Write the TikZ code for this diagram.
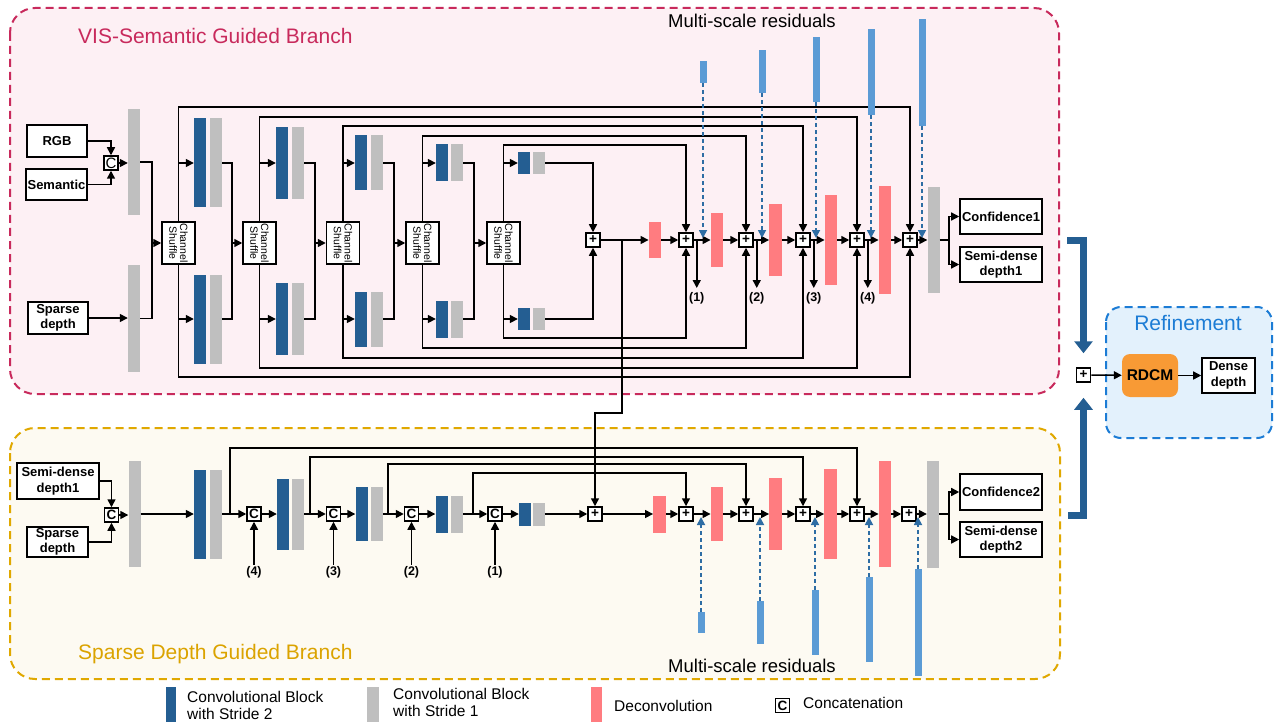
\documentclass[tikz,border=0pt]{standalone}
\usepackage{fontspec}
\setmainfont{Liberation Sans}
\usepackage{graphicx}
\usetikzlibrary{arrows.meta,calc}

\definecolor{cblue}{HTML}{245E92}
\definecolor{cgray}{HTML}{BFBFBF}
\definecolor{cpink}{HTML}{FF7C80}
\definecolor{cres}{HTML}{5B9BD5}
\definecolor{cresline}{HTML}{2E6DA4}
\definecolor{crim}{HTML}{C82A5C}
\definecolor{crimfill}{HTML}{FDF0F4}
\definecolor{gold}{HTML}{E0A800}
\definecolor{goldtext}{HTML}{DBA300}
\definecolor{goldfill}{HTML}{FDFAF2}
\definecolor{refblue}{HTML}{1C7CD5}
\definecolor{reffill}{HTML}{E3F1FC}
\definecolor{corange}{HTML}{F89A35}

% a filled bar: name, style, centre x, centre y, height
\newcommand\bloc[5]{\node[#2, minimum height=#5pt] (#1) at (#3,#4) {};}
\newcommand\shuf{\rotatebox{-90}{\fontsize{10.5}{12}\selectfont\shortstack{Channel\\Shuffle}}}

\tikzset{
  wire/.style={line width=1.5pt, black},
  arr/.style={wire, -{Triangle[length=8pt,width=8pt]}},
  box/.style={draw, line width=1.6pt, fill=white, inner sep=0pt, align=center,
    font=\bfseries\fontsize{13}{15.5}\selectfont},
  conv2/.style={fill=cblue, inner sep=0pt, minimum width=12pt},
  conv1/.style={fill=cgray, inner sep=0pt, minimum width=12pt},
  deconv/.style={fill=cpink, inner sep=0pt, minimum width=12.5pt},
  resid/.style={fill=cres, inner sep=0pt, minimum width=7pt},
  opnode/.style={draw, line width=1.5pt, fill=white, minimum size=14pt, inner sep=0pt,
    font=\bfseries\fontsize{13.5}{13.5}\selectfont},
  shuffle/.style={draw, line width=1.5pt, fill=white, minimum width=33pt,
    minimum height=42pt, inner sep=0pt},
  lab/.style={font=\bfseries\fontsize{12.5}{14}\selectfont, inner sep=1pt},
  resarr/.style={draw=cresline, line width=1.7pt, dash pattern=on 4pt off 3pt,
    -{Triangle[length=8pt,width=8pt,fill=cresline]}},
  bigarr/.style={draw=cblue, line width=7pt, line join=miter,
    -{Triangle[length=12pt,width=18pt]}},
  region/.style={line width=2pt, dash pattern=on 8pt off 5pt, rounded corners=25pt},
  title/.style={font=\fontsize{21}{25}\selectfont, inner sep=0pt},
  legtext/.style={font=\fontsize{15.5}{17}\selectfont, inner sep=0pt},
}

\begin{document}
\begin{tikzpicture}[x=1pt,y=-1pt]
\useasboundingbox (0,0) rectangle (1274,722);

% ---------- branch frames ----------
\draw[region, draw=crim, fill=crimfill] (10,8) rectangle (1059,394);
\draw[region, draw=gold, fill=goldfill] (10,428) rectangle (1060,679);
\draw[region, rounded corners=15pt, draw=refblue, fill=reffill] (1106,307) rectangle (1272,438);

\node[title, text=crim, anchor=base west] (tTop) at (78,44) {VIS-Semantic Guided Branch};
\node[title, text=goldtext, anchor=base west] (tBot) at (78,659) {Sparse Depth Guided Branch};
\node[title, text=refblue, anchor=base] (tRef) at (1188,330) {Refinement};
\node[font=\fontsize{18.5}{20}\selectfont, inner sep=0pt, anchor=base west] (msT) at (668,28) {Multi-scale residuals};
\node[font=\fontsize{18.5}{20}\selectfont, inner sep=0pt, anchor=base west] (msB) at (668,672) {Multi-scale residuals};

% ================= VIS-semantic guided branch =================
\node[box, minimum width=60pt, minimum height=32pt] (rgb) at (57,141) {RGB};
\node[box, minimum width=61pt, minimum height=31pt] (sem) at (56.5,184.5) {Semantic};
\node[box, minimum width=60pt, minimum height=32pt] (spT) at (58,318) {Sparse\\depth};
\node[opnode, font=\fontsize{15}{15}\selectfont] (catT) at (111,163) {C};
\bloc{gT0a}{conv1}{134}{162}{106}
\bloc{gT0b}{conv1}{134}{318.5}{107}

\draw[arr] (rgb.east) -| (catT.north);
\draw[arr] (sem.east) -| (catT.south);
\draw[arr] (catT.east) -- (catT.east -| gT0a.west);
\draw[arr] (spT.east) -- (spT.east -| gT0b.west);

\foreach \n/\x in {1/178.5,2/259.5,3/343,4/422.5,5/503.5}
  \node[shuffle] (cs\n) at (\x,243) {\shuf};

\coordinate (jT0) at (152,243);
\draw[wire] (gT0a.east) -| (jT0);
\draw[wire] (gT0b.east) -| (jT0);
\draw[arr] (jT0) -- (cs1.west);

% encoder stages (upper and lower paths)
\foreach \n/\bx/\gx/\h in {1/200/216/89, 2/282/298/72, 3/361/377/55, 4/442/457/37, 5/524/539/22} {
  \bloc{bTu\n}{conv2}{\bx}{163}{\h}
  \bloc{gTu\n}{conv1}{\gx}{163}{\h}
  \bloc{bTd\n}{conv2}{\bx}{319}{\h}
  \bloc{gTd\n}{conv1}{\gx}{319}{\h}
  \draw[arr] (cs\n.north |- bTu\n.west) -- (bTu\n.west);
  \draw[arr] (cs\n.south |- bTd\n.west) -- (bTd\n.west);
}
\foreach \n/\jx in {1/232,2/315,3/394,4/474} {
  \pgfmathtruncatemacro\m{\n+1}
  \coordinate (jT\n) at (\jx,243);
  \draw[wire] (gTu\n.east) -| (jT\n);
  \draw[wire] (gTd\n.east) -| (jT\n);
  \draw[arr] (jT\n) -- (cs\m.west);
}

% decoder
\node[opnode] (pA) at (593,240) {+};
\draw[arr] (gTu5.east) -| (pA.north);
\draw[arr] (gTd5.east) -| (pA.south);

\bloc{dT1}{deconv}{655}{240}{36}
\bloc{dT2}{deconv}{717}{240}{54}
\bloc{dT3}{deconv}{775.5}{240}{72}
\bloc{dT4}{deconv}{831}{240}{89}
\bloc{dT5}{deconv}{885}{240}{107}
\bloc{gTo}{conv1}{933.5}{240}{106}
\foreach \n/\x in {1/686,2/746,3/803,4/857,5/910}
  \node[opnode] (pT\n) at (\x,240) {+};

\draw[arr] (pA) -- (dT1);
\draw[arr] (dT1) -- (pT1);
\draw[arr] (pT1) -- (dT2);
\draw[arr] (dT2) -- (pT2);
\draw[arr] (pT2) -- (dT3);
\draw[arr] (dT3) -- (pT3);
\draw[arr] (pT3) -- (dT4);
\draw[arr] (dT4) -- (pT4);
\draw[arr] (pT4) -- (dT5);
\draw[arr] (dT5) -- (pT5);
\draw[arr] (pT5) -- (gTo);

% skip connections around the shuffles
\foreach \n/\p/\yt/\yb in {1/5/107/377, 2/4/117/368, 3/3/126/358, 4/2/136/348, 5/1/145/338} {
  \draw[arr] (cs\n.north) -- (cs\n.north |- 0,\yt) -| (pT\p.north);
  \draw[arr] (cs\n.south) -- (cs\n.south |- 0,\yb) -| (pT\p.south);
}

% taps (1)-(4)
\foreach \n in {1,2,3,4}
  \draw[arr] ($(pT\n.east)+(3,0)$) -- ++(0,48) node[lab, anchor=north, yshift=-3pt] {(\n)};

% multi-scale residuals
\foreach \n/\x/\cy/\h in {1/703/72/22, 2/762/71.5/43, 3/816/69.5/65, 4/871/72/86, 5/922/72.5/107} {
  \bloc{rT\n}{resid}{\x}{\cy}{\h}
  \draw[resarr] (rT\n.south) -- (rT\n.south |- 0,238);
}

% outputs
\node[box, minimum width=82pt, minimum height=35pt] (conf1) at (1001,216.5) {Confidence1};
\node[box, minimum width=82pt, minimum height=35pt] (semi1) at (1001,264.5) {Semi-dense\\depth1};
\coordinate (oT) at (949,240);
\draw[wire] (gTo.east) -- (oT);
\draw[arr] (oT) |- (conf1.west);
\draw[arr] (oT) |- (semi1.west);

% ================= Sparse depth guided branch =================
\node[box, minimum width=82pt, minimum height=36pt] (sd1) at (58,481) {Semi-dense\\depth1};
\node[box, minimum width=61pt, minimum height=30pt] (spB) at (57.5,542) {Sparse\\depth};
\node[opnode] (catB0) at (111.5,515) {C};
\bloc{gB0}{conv1}{134.5}{514}{106}
\draw[arr] (sd1.east) -| (catB0.north);
\draw[arr] (spB.east) -| (catB0.south);
\draw[arr] (catB0.east) -- (catB0.east -| gB0.west);

\foreach \n/\bx/\gx/\h in {1/200/216/89, 2/283/298/71, 3/361.5/377/54, 4/441.5/457/37, 5/525/538.5/23} {
  \bloc{bB\n}{conv2}{\bx}{514}{\h}
  \bloc{gB\n}{conv1}{\gx}{514}{\h}
}
\foreach \n/\x in {1/254,2/333.5,3/411.5,4/495}
  \node[opnode] (cB\n) at (\x,514) {C};
\node[opnode] (plusB) at (595,514) {+};

\bloc{dB1}{deconv}{659.5}{514}{37}
\bloc{dB2}{deconv}{717}{514}{54}
\bloc{dB3}{deconv}{775.5}{514}{72}
\bloc{dB4}{deconv}{830.5}{514}{90}
\bloc{dB5}{deconv}{885}{514}{106}
\bloc{gBo}{conv1}{933}{514}{107}
\foreach \n/\x in {1/686,2/746,3/803,4/857,5/909}
  \node[opnode] (pB\n) at (\x,514) {+};

\draw[arr] (gB0) -- (bB1);
\foreach \n/\jx/\l/\p/\y in {1/230/4/4/448, 2/310/3/3/457, 3/388/2/2/464, 4/473/1/1/473} {
  \pgfmathtruncatemacro\m{\n+1}
  \coordinate (jB\n) at (\jx,514);
  \draw[wire] (gB\n.east) -- (jB\n);
  \draw[arr] (jB\n) -- (cB\n.west);
  \draw[arr] (cB\n) -- (bB\m);
  \draw[arr] (jB\n) -- (jB\n |- 0,\y) -| (pB\p.north);
  \draw[arr] ($(cB\n.south)+(0,43)$) node[lab, anchor=north] {(\l)} -- (cB\n.south);
}
\draw[arr] (gB5.east) -- (plusB.west);

\draw[arr] (plusB) -- (dB1);
\draw[arr] (dB1) -- (pB1);
\draw[arr] (pB1) -- (dB2);
\draw[arr] (dB2) -- (pB2);
\draw[arr] (pB2) -- (dB3);
\draw[arr] (dB3) -- (pB3);
\draw[arr] (pB3) -- (dB4);
\draw[arr] (dB4) -- (pB4);
\draw[arr] (pB4) -- (dB5);
\draw[arr] (dB5) -- (pB5);
\draw[arr] (pB5) -- (gBo);

\foreach \n/\x/\cy/\h in {1/701/622.5/21, 2/760/622.5/43, 3/815/622.5/65, 4/869/619.5/85, 5/918/622.5/107} {
  \bloc{rB\n}{resid}{\x}{\cy}{\h}
  \draw[resarr] (rB\n.north) -- (rB\n.north |- 0,517);
}

\node[box, minimum width=82pt, minimum height=36pt] (conf2) at (1001,492) {Confidence2};
\node[box, minimum width=82pt, minimum height=35pt] (semi2) at (1001,539.5) {Semi-dense\\depth2};
\coordinate (oB) at (949,514);
\draw[wire] (gBo.east) -- (oB);
\draw[arr] (oB) |- (conf2.west);
\draw[arr] (oB) |- (semi2.west);

% link from the upper bottleneck to the lower one
\coordinate (tap) at (622,240);
\coordinate (bend) at (622,413);
\draw[arr] (tap) -- (bend) -| (plusB.north);

% ================= Refinement =================
\node[opnode] (pF) at (1083.5,375) {+};
\node[fill=corange, rounded corners=8pt, minimum width=56pt, minimum height=43pt,
  inner sep=0pt, font=\bfseries\fontsize{15.5}{17}\selectfont] (rdcm) at (1150,375.5) {RDCM};
\node[box, minimum width=53pt, minimum height=35pt] (dense) at (1228.5,375.5) {Dense\\depth};
\draw[arr] (pF) -- (rdcm);
\draw[arr] (rdcm) -- (dense);

\coordinate (outT) at (1067,240);
\coordinate (outB) at (1068,515);
\draw[bigarr, shorten >=14pt] (outT) -| (pF.north);
\draw[bigarr, shorten >=15pt] (outB) -| (pF.south);

% ================= legend =================
\bloc{lg1}{conv2, minimum width=10pt}{171}{704.5}{35}
\node[legtext, anchor=base west] (lg1a) at (187,702) {Convolutional Block};
\node[legtext, anchor=base west] (lg1b) at (187,719) {with Stride 2};
\bloc{lg2}{conv1}{373}{704.5}{35}
\node[legtext, anchor=base west] (lg2a) at (393,699) {Convolutional Block};
\node[legtext, anchor=base west] (lg2b) at (393,716) {with Stride 1};
\bloc{lg3}{deconv, minimum width=11pt}{596.5}{704.5}{35}
\node[legtext, anchor=base west] (lg3a) at (614,711) {Deconvolution};
\node[opnode] (lg4) at (782.5,705.5) {C};
\node[legtext, anchor=base west] (lg4a) at (803,708) {Concatenation};
\end{tikzpicture}
\end{document}
